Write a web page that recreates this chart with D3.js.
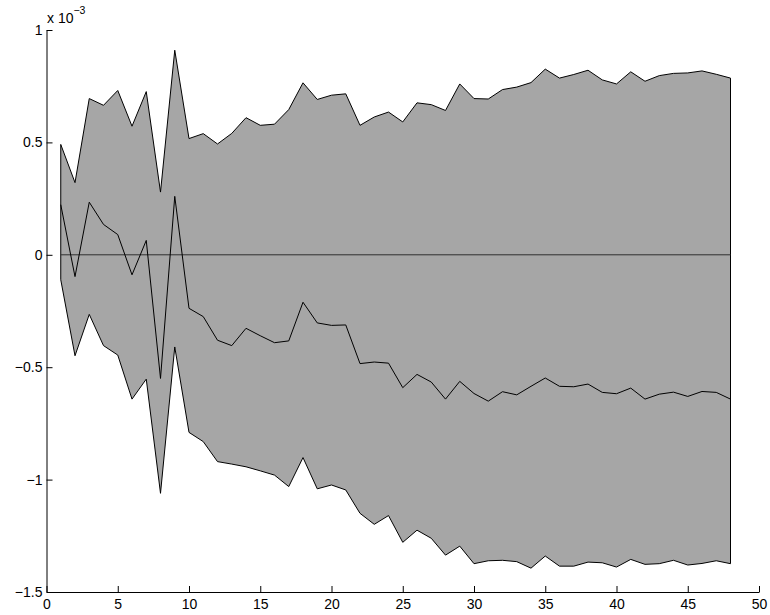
<!DOCTYPE html>
<html>
<head>
<meta charset="utf-8">
<script src="https://cdn.jsdelivr.net/npm/d3@7"></script>
<style>
  html, body { margin: 0; padding: 0; background: #fff; }
  svg { display: block; }
  text { font-family: "Liberation Sans", Arial, Helvetica, sans-serif; fill: #000; }
</style>
</head>
<body>
<svg id="chart" width="770" height="615"></svg>
<script>
// Horizon (steps)
const steps = d3.range(1, 49);
// Values in units of 1e-3
const upper = [0.491, 0.321, 0.695, 0.665, 0.731, 0.572, 0.726, 0.279, 0.910, 0.517,
               0.539, 0.493, 0.540, 0.610, 0.576, 0.581, 0.646, 0.765, 0.691, 0.710,
               0.716, 0.576, 0.613, 0.635, 0.591, 0.676, 0.668, 0.642, 0.760, 0.695,
               0.693, 0.735, 0.746, 0.766, 0.826, 0.786, 0.802, 0.821, 0.778, 0.760,
               0.814, 0.772, 0.797, 0.807, 0.809, 0.818, 0.803, 0.786];
const middle = [0.223, -0.097, 0.234, 0.135, 0.090, -0.089, 0.064, -0.550, 0.260, -0.238,
                -0.275, -0.380, -0.404, -0.327, -0.360, -0.391, -0.383, -0.211, -0.303, -0.314,
                -0.312, -0.484, -0.477, -0.482, -0.591, -0.532, -0.566, -0.642, -0.563, -0.617,
                -0.651, -0.609, -0.623, -0.585, -0.548, -0.585, -0.587, -0.575, -0.612, -0.618,
                -0.593, -0.642, -0.620, -0.611, -0.630, -0.608, -0.612, -0.642];
const lower = [-0.111, -0.449, -0.265, -0.404, -0.446, -0.642, -0.553, -1.061, -0.410, -0.790,
               -0.831, -0.920, -0.931, -0.943, -0.961, -0.980, -1.031, -0.902, -1.041, -1.024,
               -1.046, -1.150, -1.199, -1.160, -1.279, -1.225, -1.261, -1.336, -1.296, -1.374,
               -1.361, -1.359, -1.365, -1.394, -1.340, -1.385, -1.385, -1.367, -1.370, -1.389,
               -1.355, -1.377, -1.374, -1.359, -1.380, -1.373, -1.361, -1.374];
const xTicks = [0, 5, 10, 15, 20, 25, 30, 35, 40, 45, 50];
const yTicks = [-1.5, -1, -0.5, 0, 0.5, 1];
const yTickLabels = ["\u22121.5", "\u22121", "\u22120.5", "0", "0.5", "1"];

const svg = d3.select("#chart");
const x = d3.scaleLinear().domain([0, 50]).range([46.5, 759]);
const y = d3.scaleLinear().domain([-1.5, 1]).range([592, 30]);

// Band polygon: upper then reversed lower
const band = steps.map((s, i) => [s, upper[i]])
  .concat(steps.map((s, i) => [s, lower[i]]).reverse());
svg.append("path")
  .attr("d", d3.line().x(d => x(d[0])).y(d => y(d[1]))(band) + "Z")
  .attr("fill", "#a6a6a6")
  .attr("stroke", "#000")
  .attr("stroke-width", 1)
  .attr("stroke-linejoin", "miter");

// zero line
svg.append("path")
  .attr("d", d3.line().x(d => x(d)).y(() => y(0))([steps[0], steps[steps.length - 1]]))
  .attr("stroke", "#303030")
  .attr("stroke-width", 1)
  .attr("fill", "none");

// middle line
svg.append("path")
  .attr("d", d3.line().x((d, i) => x(steps[i])).y(d => y(d))(middle))
  .attr("stroke", "#000")
  .attr("stroke-width", 1)
  .attr("fill", "none");

// Axes (ticks inward)
const xAxis = d3.axisBottom(x).tickValues(xTicks).tickSizeInner(-6).tickSizeOuter(0).tickPadding(9)
  .tickFormat(d3.format("d"));
const gx = svg.append("g").attr("transform", `translate(0,${y(-1.5)})`).call(xAxis);
const yAxis = d3.axisLeft(y).tickValues(yTicks).tickSizeInner(-6).tickSizeOuter(0).tickPadding(10)
  .tickFormat((d, i) => yTickLabels[i]);
const gy = svg.append("g").attr("transform", `translate(${x(0)},0)`).call(yAxis);

[gx, gy].forEach(g => {
  g.select(".domain").attr("stroke", "#000").attr("stroke-width", 1);
  g.selectAll(".tick line").attr("stroke", "#000").attr("stroke-width", 1);
  g.selectAll(".tick text").attr("font-size", 14).attr("font-family", "Liberation Sans, Arial, sans-serif");
});
gy.selectAll(".tick text").attr("x", -4);
gx.selectAll(".tick text").attr("y", 7);

// Exponent label
const exp = svg.append("text").attr("x", 47).attr("y", 23).attr("font-size", 14);
exp.append("tspan").text("x 10");
exp.append("tspan").attr("dy", -9).attr("font-size", 10.5).text("\u22123");
</script>
</body>
</html>
